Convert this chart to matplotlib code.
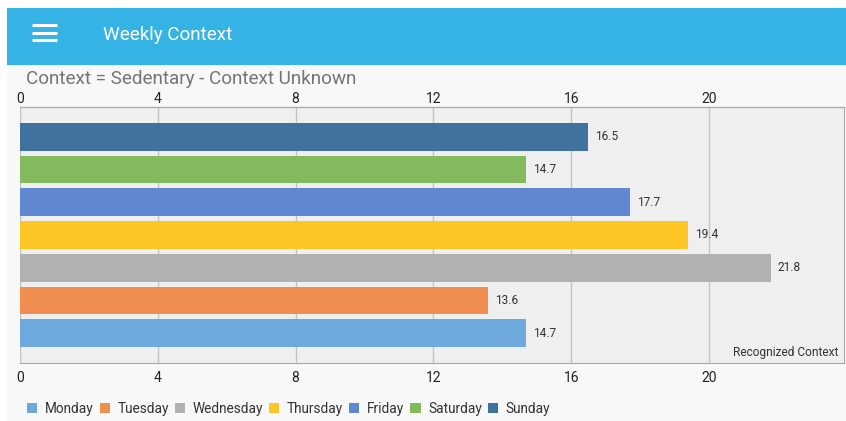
import matplotlib.pyplot as plt
from matplotlib.patches import Rectangle, Patch
from matplotlib.lines import Line2D

plt.rcParams['font.family'] = ['Roboto', 'DejaVu Sans']

days = ['Monday', 'Tuesday', 'Wednesday', 'Thursday', 'Friday', 'Saturday', 'Sunday']
hours = [14.7, 13.6, 21.8, 19.4, 17.7, 14.7, 16.5]
colors = ['#6fa8dc', '#f08e4f', '#b1b1b1', '#fdc624', '#6088d0', '#84ba5e', '#41729e']
ticks = [0, 4, 8, 12, 16, 20]

W, H = 846, 421
fig = plt.figure(figsize=(W / 100, H / 100), dpi=100)
fig.patch.set_facecolor('white')

# page background and app header
fig.patches.append(Rectangle((7 / W, 0), 1, (H - 65) / H, transform=fig.transFigure,
                             facecolor='#f8f8f8', edgecolor='none', zorder=-2))
fig.patches.append(Rectangle((7 / W, (H - 65) / H), 1, 57 / H, transform=fig.transFigure,
                             facecolor='#35b3e5', edgecolor='none', zorder=-1))
for yy in [25, 32.5, 40]:
    fig.lines.append(Line2D([32 / W, 57 / W], [1 - yy / H, 1 - yy / H], transform=fig.transFigure,
                            color='white', linewidth=2.2, solid_capstyle='butt'))
fig.text(103 / W, 1 - 35 / H, 'Weekly Context', color='white', fontsize=13.6, va='center', ha='left')
fig.text(26 / W, 1 - 79 / H, 'Context = Sedentary - Context Unknown', color='#757575',
         fontsize=13.6, va='center', ha='left')

ax = fig.add_axes([20 / W, 1 - 363 / H, 824 / W, 256 / H])
ax.set_facecolor('#efefef')
ypos = list(range(len(days)))
ax.barh(ypos, hours, height=0.85, color=colors, zorder=3)
for y, v in zip(ypos, hours):
    ax.text(v + 0.2, y, f'{v}', va='center', ha='left', fontsize=8.6, color='#333333', zorder=4)

ax.set_xlim(0, 23.92)
ax.set_ylim(-0.91, 6.91)
ax.set_xticks(ticks)
ax.set_yticks([])
ax.grid(axis='x', color='#c4c4c4', linewidth=1, zorder=0)
ax.tick_params(axis='x', length=0, labelsize=10, labelcolor='#222222', pad=6)
top = ax.secondary_xaxis('top')
top.set_xticks(ticks)
top.tick_params(axis='x', length=0, labelsize=10, labelcolor='#222222', pad=0.5)
top.spines['top'].set_color('#a8a8a8')
for s in ['top', 'bottom', 'right']:
    ax.spines[s].set_color('#a8a8a8')
ax.spines['left'].set_visible(False)
ax.text(0.993, 0.04, 'Recognized Context', transform=ax.transAxes, ha='right', va='center',
        fontsize=8.6, color='#333333')

handles = [Patch(facecolor=c, edgecolor='none') for c in colors]
fig.legend(handles, days, loc='center left', bbox_to_anchor=(27 / W, 1 - 409 / H), ncol=7,
           frameon=False, fontsize=9.8, handlelength=0.75, handleheight=0.75, borderpad=0,
           borderaxespad=0, handletextpad=0.55, columnspacing=0.45, labelcolor='#333333')

fig.savefig('out.png', dpi=100, facecolor=fig.get_facecolor())
